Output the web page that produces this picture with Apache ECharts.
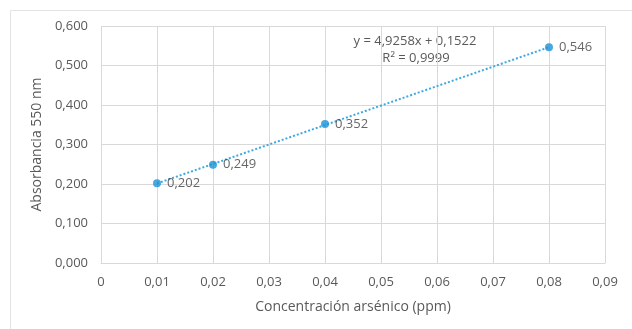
<!DOCTYPE html>
<html><head><meta charset="utf-8">
<script src="https://cdn.jsdelivr.net/npm/echarts@6/dist/echarts.min.js"></script>
<style>html,body{margin:0;padding:0;background:#fff}#c{width:632px;height:329px}</style>
</head><body><div id="c"></div>
<script>
const concentrations = [0.01, 0.02, 0.04, 0.08];
const absorbances = [0.202, 0.249, 0.352, 0.546];
const trendX = [0.01, 0.08];
const trendY = [0.2015, 0.5463];
const equationLines = ['y = 4,9258x + 0,1522', 'R² = 0,9999'];
const xTitle = 'Concentración arsénico (ppm)';
const yTitle = 'Absorbancia 550 nm';

const comma = (v, d) => v.toFixed(d).replace('.', ',');
const FONT = '"Open Sans", "DejaVu Sans", sans-serif';
const chart = echarts.init(document.getElementById('c'));
chart.setOption({
  animation: false,
  textStyle: { fontFamily: FONT },
  grid: { left: 101, right: 27, top: 26, bottom: 66 },
  xAxis: {
    type: 'value', min: 0, max: 0.09, interval: 0.01,
    axisLine: { show: true, lineStyle: { color: '#d9d9d9' } },
    axisTick: { show: false },
    axisLabel: { color: '#595959', fontSize: 13, margin: 13, fontFamily: FONT,
      formatter: v => v === 0 ? '0' : comma(v, 2) },
    splitLine: { show: true, lineStyle: { color: '#d9d9d9' } },
    name: xTitle, nameLocation: 'middle', nameGap: 37,
    nameTextStyle: { color: '#595959', fontSize: 14, fontFamily: FONT }
  },
  yAxis: {
    type: 'value', min: 0, max: 0.6, interval: 0.1,
    axisLine: { show: false }, axisTick: { show: false },
    axisLabel: { color: '#595959', fontSize: 13, margin: 13, fontFamily: FONT,
      formatter: v => comma(v, 3) },
    splitLine: { show: true, lineStyle: { color: '#d9d9d9' } },
    name: yTitle, nameLocation: 'middle', nameGap: 48,
    nameTextStyle: { color: '#595959', fontSize: 14, fontFamily: FONT }
  },
  graphic: [
    { type: 'rect', shape: { x: 10.5, y: 10.5, width: 640, height: 340 },
      style: { fill: 'none', stroke: '#e3e3e3', lineWidth: 1 }, silent: true },
    { type: 'text', x: 415, y: 35, style: { text: equationLines[0], fill: '#595959', font: '13px ' + FONT, textAlign: 'center' } },
    { type: 'text', x: 416, y: 52, style: { text: equationLines[1], fill: '#595959', font: '13px ' + FONT, textAlign: 'center' } }
  ],
  series: [
    {
      type: 'line', data: trendX.map((x, i) => [x, trendY[i]]),
      showSymbol: false, lineStyle: { color: '#3fa9e0', width: 2, type: [2, 2] }, z: 1
    },
    {
      type: 'scatter', data: concentrations.map((x, i) => [x, absorbances[i]]),
      symbolSize: 8, itemStyle: { color: '#1b93d6' }, z: 3,
      label: { show: true, position: 'right', distance: 6, color: '#404040', fontSize: 13, fontFamily: FONT,
        formatter: p => comma(p.value[1], 3) }
    }
  ]
});
</script></body></html>
